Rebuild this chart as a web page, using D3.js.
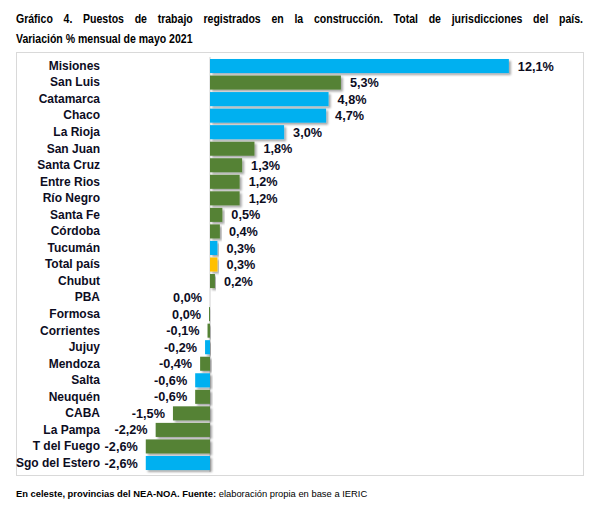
<!DOCTYPE html>
<html>
<head>
<meta charset="utf-8">
<script src="https://cdn.jsdelivr.net/npm/d3@7"></script>
<style>
html,body{margin:0;padding:0;background:#fff;}
svg{display:block;font-family:"Liberation Sans",Arial,sans-serif;}
</style>
</head>
<body>
<svg id="chart" width="594" height="513"></svg>
<script>
const categories = ["Misiones","San Luis","Catamarca","Chaco","La Rioja","San Juan","Santa Cruz","Entre Rios","Río Negro","Santa Fe","Córdoba","Tucumán","Total país","Chubut","PBA","Formosa","Corrientes","Jujuy","Mendoza","Salta","Neuquén","CABA","La Pampa","T del Fuego","Sgo del Estero"];
const values = [12.1,5.3,4.8,4.7,3.0,1.8,1.3,1.2,1.2,0.5,0.4,0.3,0.3,0.2,0.0,-0.04,-0.1,-0.2,-0.4,-0.6,-0.6,-1.5,-2.2,-2.6,-2.6];
const groups = ["nea","otro","nea","nea","nea","otro","otro","otro","otro","otro","otro","nea","total","otro","otro","otro","otro","nea","otro","nea","otro","otro","otro","otro","nea"];
const groupColors = {nea:"#00B0F0", otro:"#548235", total:"#FFC000"};

const svg = d3.select("#chart");
const defs = svg.append("defs");
const f = defs.append("filter").attr("id","sh").attr("x","-20%").attr("y","-40%").attr("width","140%").attr("height","200%");
f.append("feDropShadow").attr("dx",2).attr("dy",2).attr("stdDeviation",1.3).attr("flood-color","#000").attr("flood-opacity",0.35);

// Title (condensed, first line justified)
const sx = 0.81;
const tg = svg.append("g").attr("transform",`translate(16,0) scale(${sx},1)`);
const title1 = "Gráfico 4. Puestos de trabajo registrados en la construcción. Total de jurisdicciones del país.";
const t1 = tg.append("text").attr("x",0).attr("y",23).attr("font-size",13).attr("font-weight","bold").attr("fill","#000")
  .text(title1);
const nat = t1.node().getComputedTextLength();
const spaces = title1.split(" ").length - 1;
t1.attr("word-spacing", ((567/sx) - nat)/spaces);
tg.append("text").attr("x",0).attr("y",43).attr("font-size",13).attr("font-weight","bold").attr("fill","#000")
  .text("Variación % mensual de mayo 2021");

// Frame
svg.append("rect").attr("x",16.5).attr("y",52.5).attr("width",567).attr("height",423)
  .attr("fill","none").attr("stroke","#d9d9d9").attr("stroke-width",1);

const y = d3.scaleBand().domain(categories).range([56.5,472.5]).padding(0.15);
const x = d3.scaleLinear().domain([-3,13]).range([135.9,531.1]);

const data = categories.map((c,i)=>({c, v:values[i], g:groups[i]}));

// zero axis line
svg.append("line").attr("x1",x(0)).attr("x2",x(0)).attr("y1",57).attr("y2",472)
  .attr("stroke","#d0d0d0").attr("stroke-width",1);

svg.append("g").selectAll("rect").data(data).join("rect")
  .attr("x",d=>Math.min(x(0),x(d.v)))
  .attr("y",d=>y(d.c))
  .attr("width",d=>Math.abs(x(d.v)-x(0)))
  .attr("height",y.bandwidth())
  .attr("fill",d=>groupColors[d.g])
  .attr("filter","url(#sh)");

// category labels
const yAxis = d3.axisLeft(y).tickSize(0).tickPadding(0);
const ga = svg.append("g").attr("transform","translate(100,0)").call(yAxis);
ga.select(".domain").remove();
ga.selectAll("text").attr("font-size",12).attr("font-weight","bold").attr("fill","#0d0d1f")
  .attr("font-family","'Liberation Sans',Arial,sans-serif");

function fmt(v){
  const r = Math.round(v*10)/10;
  return (r===0 ? "0.0" : r.toFixed(1)).replace(".",",")+"%";
}

svg.append("g").selectAll("text").data(data).join("text")
  .attr("x",d=> d.v>0 ? x(d.v)+9 : Math.min(x(d.v),x(0))-8)
  .attr("y",d=>y(d.c)+y.bandwidth()/2)
  .attr("dy","0.36em")
  .attr("text-anchor",d=> d.v>0 ? "start" : "end")
  .attr("font-size",12.7).attr("font-weight","bold").attr("fill","#0d0d1f")
  .text(d=>fmt(d.v));

// footer
const ft = svg.append("text").attr("x",16).attr("y",497).attr("font-size",9.4).attr("fill","#000");
ft.append("tspan").attr("font-weight","bold").text("En celeste, provincias del NEA-NOA. Fuente:");
ft.append("tspan").text(" elaboración propia en base a IERIC");
</script>
</body>
</html>
